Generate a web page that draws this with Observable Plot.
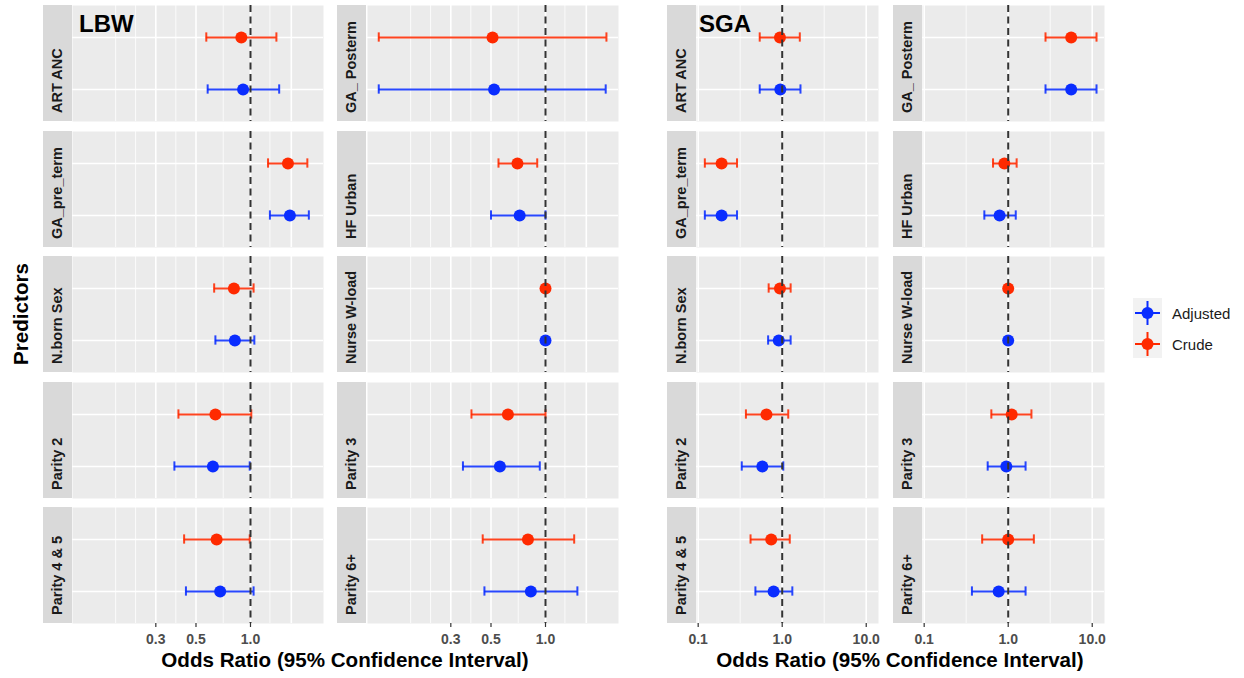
<!DOCTYPE html>
<html>
<head>
<meta charset="utf-8">
<script src="https://cdn.jsdelivr.net/npm/d3@7"></script>
<script src="https://cdn.jsdelivr.net/npm/@observablehq/plot@0.6"></script>
<style>
  body { margin: 0; background: #fff; font-family: "Liberation Sans", Arial, sans-serif; }
  #root { position: relative; width: 1244px; height: 678px; overflow: hidden; }
  .abs { position: absolute; }
  .strip {
    position: absolute; background: #D9D9D9; box-sizing: border-box;
    writing-mode: vertical-rl; transform: rotate(180deg);
    padding-top: 8px; font-size: 14.5px; font-weight: bold; color: #1A1A1A;
    white-space: nowrap; text-align: start;
  }
  .gtitle { position: absolute; font-size: 24px; font-weight: bold; color: #000; line-height: 1; }
  .xtitle { position: absolute; font-size: 20.6px; font-weight: bold; color: #000; white-space: nowrap; transform: translateX(-50%); line-height: 1; }
  .ytitle { position: absolute; font-size: 20.6px; font-weight: bold; color: #000; white-space: nowrap; transform: translate(-50%,-50%) rotate(-90deg); line-height: 1; }
  .legtext { position: absolute; font-size: 15px; color: #1A1A1A; line-height: 1; transform: translateY(-50%); }
</style>
</head>
<body>
<div id="root"></div>
<script>
// ---------------- data ----------------
const predictors = ["ART ANC", "GA_ Posterm", "GA_pre_term", "HF Urban", "N.born Sex",
                    "Nurse W-load", "Parity 2", "Parity 3", "Parity 4 & 5", "Parity 6+"];
const types = ["Crude", "Adjusted"];
const legendTypes = ["Adjusted", "Crude"];

// LBW
const lbwCrudeOR = [0.89, 0.51, 1.61, 0.70, 0.81, 1.00, 0.64, 0.62, 0.65, 0.80];
const lbwCrudeLo = [0.57, 0.12, 1.25, 0.55, 0.63, 0.995, 0.40, 0.39, 0.43, 0.45];
const lbwCrudeHi = [1.39, 2.17, 2.06, 0.90, 1.04, 1.005, 1.01, 1.00, 0.99, 1.44];
const lbwAdjOR   = [0.91, 0.52, 1.65, 0.72, 0.82, 1.00, 0.62, 0.56, 0.68, 0.83];
const lbwAdjLo   = [0.58, 0.12, 1.28, 0.50, 0.64, 0.995, 0.38, 0.35, 0.44, 0.46];
const lbwAdjHi   = [1.44, 2.15, 2.10, 1.00, 1.05, 1.005, 0.99, 0.93, 1.04, 1.50];

// SGA
const sgaCrudeOR = [0.94, 5.62, 0.19, 0.90, 0.94, 1.00, 0.65, 1.10, 0.74, 1.00];
const sgaCrudeLo = [0.54, 2.78, 0.12, 0.66, 0.69, 0.995, 0.37, 0.63, 0.42, 0.49];
const sgaCrudeHi = [1.62, 11.25, 0.29, 1.26, 1.26, 1.005, 1.18, 1.89, 1.23, 2.02];
const sgaAdjOR   = [0.95, 5.62, 0.19, 0.79, 0.91, 1.00, 0.58, 0.95, 0.79, 0.77];
const sgaAdjLo   = [0.54, 2.78, 0.12, 0.52, 0.68, 0.995, 0.33, 0.57, 0.48, 0.37];
const sgaAdjHi   = [1.65, 11.25, 0.29, 1.23, 1.26, 1.005, 1.03, 1.61, 1.32, 1.61];

// axis breaks
const lbwTicks = [0.3, 0.5, 1.0];
const lbwTickLabels = ["0.3", "0.5", "1.0"];
const lbwMajorGrid = [0.3, 0.5, 1.0, 1.68];
const lbwMinorGrid = [0.18, 0.232, 0.387, 0.707, 1.28];
const sgaTicks = [0.1, 1.0, 10.0];
const sgaTickLabels = ["0.1", "1.0", "10.0"];
const sgaMajorGrid = [0.1, 1.0, 10.0];
const sgaMinorGrid = [0.0316, 0.316, 3.16];

const refLine = [1];

// ---------------- style / layout ----------------
const RED = "#FF2A00", BLUE = "#0A2DFF";
const PANEL_H = 116, ROW_STEP = 125.5, TOP = 5, AXIS_H = 34;
const FONT = "'Liberation Sans', Arial, sans-serif";
const CAP_INSET = (PANEL_H / 2.2 - 10) / 2;

function rows(cOR, cLo, cHi, aOR, aLo, aHi) {
  return predictors.map((p, i) => [
    {predictor: p, type: "Crude", or: cOR[i], lo: cLo[i], hi: cHi[i]},
    {predictor: p, type: "Adjusted", or: aOR[i], lo: aLo[i], hi: aHi[i]}
  ]);
}

const groups = [
  {
    name: "LBW", titleX: 79, data: rows(lbwCrudeOR, lbwCrudeLo, lbwCrudeHi, lbwAdjOR, lbwAdjLo, lbwAdjHi),
    domain: [0.104, 2.53], ticks: lbwTicks, labels: lbwTickLabels, major: lbwMajorGrid, minor: lbwMinorGrid,
    cols: [{strip: 43, panel: 72}, {strip: 337, panel: 367}], stripW: 29, width: 251
  },
  {
    name: "SGA", titleX: 699, data: rows(sgaCrudeOR, sgaCrudeLo, sgaCrudeHi, sgaAdjOR, sgaAdjLo, sgaAdjHi),
    domain: [0.0955, 14.0], ticks: sgaTicks, labels: sgaTickLabels, major: sgaMajorGrid, minor: sgaMinorGrid,
    cols: [{strip: 667, panel: 696}, {strip: 893, panel: 922}], stripW: 29, width: 182
  }
];

const root = document.getElementById("root");

function el(cls, text, css) {
  const d = document.createElement("div");
  d.className = cls;
  if (text != null) d.textContent = text;
  Object.assign(d.style, css);
  root.appendChild(d);
  return d;
}

for (const g of groups) {
  g.data.forEach((data, i) => {
    const row = Math.floor(i / 2), col = i % 2;
    const top = TOP + row * ROW_STEP;
    const bottom = row === 4;
    const c = g.cols[col];

    // strip
    el("strip", predictors[i], {
      left: c.strip + "px", top: top + "px", width: g.stripW + "px", height: PANEL_H + "px",
      lineHeight: g.stripW + "px"
    });

    const marks = [
      Plot.frame({fill: "#EBEBEB", stroke: "none"}),
      Plot.gridX(g.minor, {stroke: "white", strokeOpacity: 1, strokeWidth: 0.8}),
      Plot.gridX(g.major, {stroke: "white", strokeOpacity: 1, strokeWidth: 1.6}),
      Plot.gridY(types, {stroke: "white", strokeOpacity: 1, strokeWidth: 1.6}),
      Plot.ruleY(data, {y: "type", x1: "lo", x2: "hi", stroke: "type", strokeWidth: 2, strokeOpacity: 0.88}),
      Plot.tickX(data, {x: "lo", y: "type", stroke: "type", strokeWidth: 2, strokeOpacity: 0.88, insetTop: CAP_INSET, insetBottom: CAP_INSET}),
      Plot.tickX(data, {x: "hi", y: "type", stroke: "type", strokeWidth: 2, strokeOpacity: 0.88, insetTop: CAP_INSET, insetBottom: CAP_INSET}),
      Plot.dot(data, {x: "or", y: "type", fill: "type", r: 6}),
      Plot.ruleX(refLine, {stroke: "#333", strokeWidth: 2, strokeDasharray: "7,4.5"})
    ];
    if (bottom) {
      marks.push(Plot.axisX({ticks: g.ticks, tickSize: 4, stroke: "#333", strokeWidth: 1.2, text: null, label: null}));
      marks.push(Plot.axisX({ticks: g.ticks, tickSize: 0, tickPadding: 11, fill: "#4D4D4D",
        fontWeight: "bold", fontSize: 14, label: null,
        tickFormat: (d) => g.labels[g.ticks.indexOf(d)]}));
    }

    const chart = Plot.plot({
      width: g.width,
      height: PANEL_H + (bottom ? AXIS_H : 0),
      marginTop: 0, marginRight: 0, marginLeft: 0,
      marginBottom: bottom ? AXIS_H : 0,
      style: {background: "transparent", fontFamily: FONT, overflow: "visible"},
      x: {type: "log", domain: g.domain, axis: bottom ? undefined : null},
      y: {type: "band", domain: types, paddingInner: 0, paddingOuter: 0.1, axis: null},
      color: {domain: legendTypes, range: [BLUE, RED]},
      marks
    });
    const holder = el("abs", null, {left: c.panel + "px", top: top + "px"});
    holder.appendChild(chart);
  });

  // group title
  el("gtitle", g.name, {left: g.titleX + "px", top: "12px"});
  // x-axis title
  const cx = (g.cols[0].panel + g.cols[1].panel + g.width) / 2;
  el("xtitle", "Odds Ratio (95% Confidence Interval)", {left: cx + "px", top: "650px"});
}

// y-axis title
el("ytitle", "Predictors", {left: "21px", top: "314px"});

// legend
const legSvgNS = "http://www.w3.org/2000/svg";
const leg = document.createElementNS(legSvgNS, "svg");
leg.setAttribute("width", "29");
leg.setAttribute("height", "60");
leg.style.position = "absolute";
leg.style.left = "1133px";
leg.style.top = "298px";
const legColors = [BLUE, RED];
leg.innerHTML = `<rect x="0" y="0" width="29" height="60" fill="#F2F2F2"/>` +
  legendTypes.map((t, k) => {
    const cy = 15 + k * 31;
    return `<line x1="2" x2="27" y1="${cy}" y2="${cy}" stroke="${legColors[k]}" stroke-width="2"/>` +
           `<line x1="14.5" x2="14.5" y1="${cy - 12}" y2="${cy + 12}" stroke="${legColors[k]}" stroke-width="2"/>` +
           `<circle cx="14.5" cy="${cy}" r="6" fill="${legColors[k]}"/>`;
  }).join("");
root.appendChild(leg);
legendTypes.forEach((t, k) => {
  el("legtext", t, {left: "1172px", top: (298 + 15 + k * 31) + "px"});
});
</script>
</body>
</html>
